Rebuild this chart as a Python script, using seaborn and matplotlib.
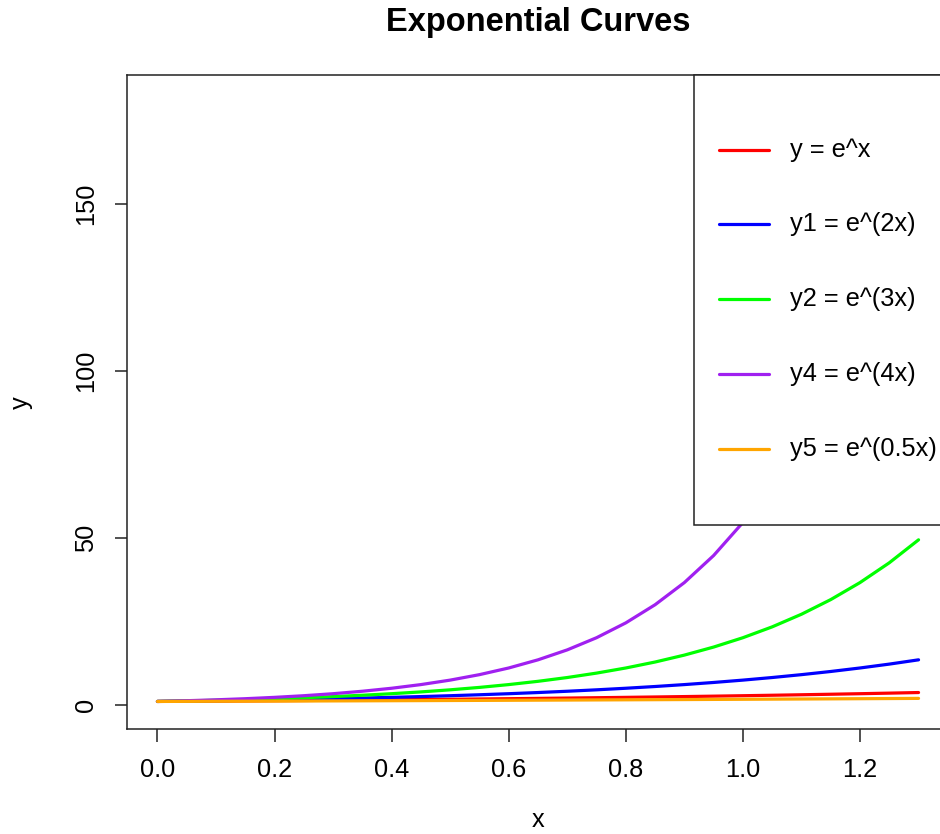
import numpy as np
import pandas as pd
import matplotlib
matplotlib.use("Agg")
import matplotlib.pyplot as plt
import seaborn as sns
from matplotlib.patches import Rectangle
from matplotlib.lines import Line2D

# ---- data ----
x_vals = [0.00, 0.05, 0.10, 0.15, 0.20, 0.25, 0.30, 0.35, 0.40, 0.45, 0.50, 0.55, 0.60, 0.65,
          0.70, 0.75, 0.80, 0.85, 0.90, 0.95, 1.00, 1.05, 1.10, 1.15, 1.20, 1.25, 1.30]
y_e1 = [1.000, 1.051, 1.105, 1.162, 1.221, 1.284, 1.350, 1.419, 1.492, 1.568, 1.649, 1.733, 1.822, 1.916,
        2.014, 2.117, 2.226, 2.340, 2.460, 2.586, 2.718, 2.858, 3.004, 3.158, 3.320, 3.490, 3.669]
y_e2 = [1.000, 1.105, 1.221, 1.350, 1.492, 1.649, 1.822, 2.014, 2.226, 2.460, 2.718, 3.004, 3.320, 3.669,
        4.055, 4.482, 4.953, 5.474, 6.050, 6.686, 7.389, 8.166, 9.025, 9.974, 11.023, 12.182, 13.464]
y_e3 = [1.000, 1.162, 1.350, 1.568, 1.822, 2.117, 2.460, 2.858, 3.320, 3.857, 4.482, 5.207, 6.050, 7.029,
        8.166, 9.488, 11.023, 12.807, 14.880, 17.288, 20.086, 23.336, 27.113, 31.500, 36.598, 42.521, 49.402]
y_e4 = [1.000, 1.221, 1.492, 1.822, 2.226, 2.718, 3.320, 4.055, 4.953, 6.050, 7.389, 9.025, 11.023, 13.464,
        16.445, 20.086, 24.533, 29.964, 36.598, 44.701, 54.598, 66.686, 81.451, 99.484, 121.510, 148.413, 181.272]
y_e05 = [1.000, 1.025, 1.051, 1.078, 1.105, 1.133, 1.162, 1.191, 1.221, 1.252, 1.284, 1.317, 1.350, 1.384,
         1.419, 1.455, 1.492, 1.530, 1.568, 1.608, 1.649, 1.691, 1.733, 1.777, 1.822, 1.868, 1.916]

labels = ["y = e^x", "y1 = e^(2x)", "y2 = e^(3x)", "y4 = e^(4x)", "y5 = e^(0.5x)"]
colors = ["#FF0000", "#0000FF", "#00FF00", "#A020F0", "#FFA500"]
series = [y_e1, y_e2, y_e3, y_e4, y_e05]

x_ticks = [0.0, 0.2, 0.4, 0.6, 0.8, 1.0, 1.2]
y_ticks = [0, 50, 100, 150]

df = pd.concat([pd.DataFrame({"x": x_vals, "y": ys, "series": lab})
                for ys, lab in zip(series, labels)], ignore_index=True)

sns.set_style("white")
plt.rcParams["font.family"] = ["Liberation Sans", "DejaVu Sans"]

W, H = 940, 834
fig = plt.figure(figsize=(W / 100, H / 100), dpi=100)
ax_l, ax_r, ax_t, ax_b = 127, 949, 75.3, 729
ax = fig.add_axes([ax_l / W, 1 - ax_b / H, (ax_r - ax_l) / W, (ax_b - ax_t) / H])

sns.lineplot(data=df, x="x", y="y", hue="series", hue_order=labels, palette=colors,
             linewidth=2.3, legend=False, ax=ax, sort=False, estimator=None)

ax.set_xlim(-0.052, 1.352)
ax.set_ylim(-7.25, 188.5)
ax.set_xticks(x_ticks)
ax.set_xticklabels([f"{v:.1f}" for v in x_ticks])
ax.set_yticks(y_ticks)
ax.set_yticklabels([str(v) for v in y_ticks])

for s in ax.spines.values():
    s.set_visible(True)
    s.set_color("#222222")
    s.set_linewidth(1.1)

ax.tick_params(axis="both", direction="out", length=9, width=1.1, color="#222222",
               labelsize=18.3, labelcolor="black", pad=12, bottom=True, left=True)
plt.setp(ax.get_yticklabels(), rotation=90, va="center")

ax.set_xlabel("x", fontsize=18.3, color="black")
ax.set_ylabel("y", fontsize=18.3, color="black")
ax.xaxis.label.set_va("center")
ax.yaxis.label.set_va("center")
ax.xaxis.set_label_coords(0.5, (ax_b - 820) / (ax_b - ax_t))
ax.yaxis.set_label_coords((21 - ax_l) / (ax_r - ax_l), 0.5)

fig.text(((ax_l + ax_r) / 2) / W, 1 - 31 / H, "Exponential Curves", ha="center",
         va="baseline", fontsize=23.5, fontweight="bold", color="black")

# ---- legend (R style, top right, white box over the curves) ----
def ax_fx(px):
    return (px - ax_l) / (ax_r - ax_l)

def ax_fy(py):
    return (ax_b - py) / (ax_b - ax_t)

box = Rectangle((ax_fx(694), ax_fy(525)), 0.5, 1.0 - ax_fy(525),
                transform=ax.transAxes, facecolor="white", edgecolor="#222222",
                linewidth=1.1, zorder=5, clip_on=False)
ax.add_patch(box)
row_py = [150, 224.5, 299, 374.5, 449]
for lab, col, py in zip(labels, colors, row_py):
    ax.add_line(Line2D([ax_fx(719), ax_fx(769)], [ax_fy(py), ax_fy(py)], color=col,
                       linewidth=2.3, transform=ax.transAxes, zorder=6, clip_on=False))
    ax.text(ax_fx(790), ax_fy(py), lab, transform=ax.transAxes, ha="left", va="center",
            fontsize=18.3, color="black", zorder=6)

fig.savefig("out.png", dpi=100)
